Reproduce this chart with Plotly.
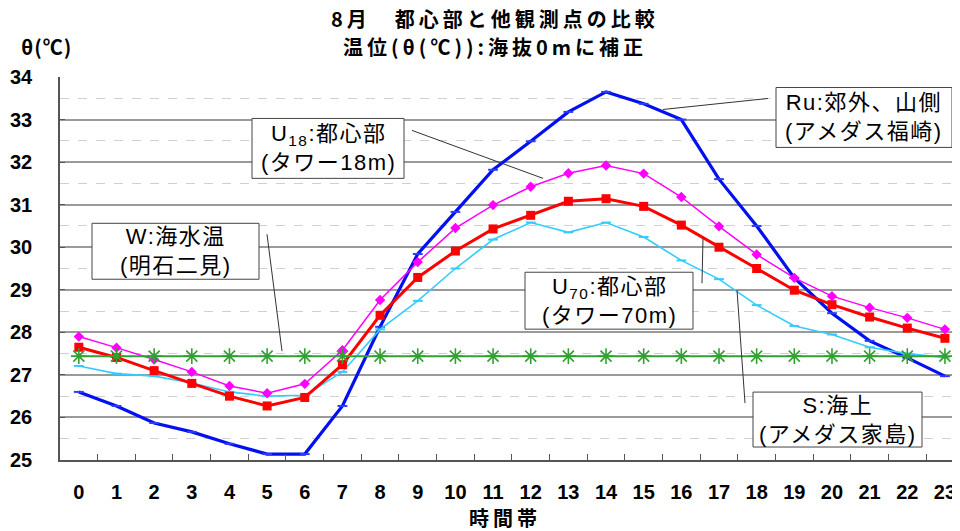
import plotly.graph_objects as go

hours = [str(h) for h in range(24)]
tick_labels = hours

ru_fukusaki = [26.60, 26.27, 25.87, 25.66, 25.38, 25.14, 25.14, 26.27, 28.13, 29.84, 30.83, 31.82,
               32.49, 33.18, 33.65, 33.37, 33.00, 31.60, 30.50, 29.28, 28.45, 27.80, 27.40, 26.97]
u18_tower = [27.90, 27.64, 27.36, 27.07, 26.74, 26.57, 26.79, 27.58, 28.76, 29.65, 30.45, 30.99,
             31.42, 31.74, 31.92, 31.73, 31.18, 30.49, 29.83, 29.28, 28.85, 28.58, 28.34, 28.07]
u70_tower = [27.65, 27.41, 27.10, 26.80, 26.50, 26.27, 26.47, 27.24, 28.40, 29.29, 29.91, 30.43,
             30.75, 31.08, 31.14, 30.96, 30.52, 30.00, 29.50, 28.99, 28.65, 28.36, 28.10, 27.86]
s_ieshima = [27.21, 27.03, 26.97, 26.81, 26.60, 26.50, 26.52, 27.07, 28.07, 28.74, 29.50, 30.18,
             30.58, 30.35, 30.58, 30.24, 29.69, 29.25, 28.64, 28.15, 27.95, 27.65, 27.50, 27.41]
w_sea = [27.44] * 24

title_line1 = "8月　都心部と他観測点の比較"
title_line2 = "温位(θ(℃)):海抜0mに補正"
y_title = "θ(℃)"
x_title = "時間帯"

labels = {
    "u18": "U<sub>18</sub>:都心部<br>(タワー18m)",
    "w": "W:海水温<br>(明石二見)",
    "ru": "Ru:郊外、山側<br>(アメダス福崎)",
    "u70": "U<sub>70</sub>:都心部<br>(タワー70m)",
    "s": "S:海上<br>(アメダス家島)",
}

# the page body has an 8px margin: lay out in screen pixels, convert to figure pixels
OFF = 8
W, H = 960 - OFF, 531 - OFF
L, R, T, B = 60 - OFF, 0, 76.5 - OFF, 71
PW, PH = W - L - R, H - T - B


def px(x):
    return (x - OFF - L) / PW


def py(y):
    return (H - B - (y - OFF)) / PH


def spaced(text, ls):
    return '<span style="letter-spacing:%gpx">%s</span>' % (ls, text)


fig = go.Figure()

fig.add_trace(go.Scatter(x=hours, y=ru_fukusaki, mode="lines+markers", name="Ru",
                         line=dict(color="#0010F0", width=3.2),
                         marker=dict(symbol="line-ew", size=7, line=dict(color="#2a3cff", width=2))))
fig.add_trace(go.Scatter(x=hours, y=s_ieshima, mode="lines+markers", name="S",
                         line=dict(color="#33CCFF", width=1.6),
                         marker=dict(symbol="line-ew", size=7, line=dict(color="#33CCFF", width=2))))
fig.add_trace(go.Scatter(x=hours, y=u70_tower, mode="lines+markers", name="U70",
                         line=dict(color="#FF0000", width=3),
                         marker=dict(symbol="square", size=9, color="#FF0000")))
fig.add_trace(go.Scatter(x=hours, y=u18_tower, mode="lines+markers", name="U18",
                         line=dict(color="#FF00FF", width=1.5),
                         marker=dict(symbol="diamond", size=8, color="#FF00FF")))
fig.add_trace(go.Scatter(x=hours, y=w_sea, mode="lines+markers", name="W",
                         line=dict(color="#33A033", width=2),
                         marker=dict(symbol="asterisk-open", size=13, line=dict(color="#0A7A0A", width=1.6))))

# boxes (screen pixel coords) and leader lines
boxes = [
    ("u18", 252, 118, 404, 178, (412, 130), (543, 178)),
    ("w", 92, 223, 259, 279, (267, 234), (282, 351)),
    ("ru", 776, 87, 952, 147, (768, 98), (663, 109)),
    ("u70", 525, 272, 693, 329, (702, 283), (703, 238)),
    ("s", 753, 392, 922, 447, (745, 403), (737, 290)),
]
shapes = []
annotations = []
for key, x0, y0, x1, y1, p0, p1 in boxes:
    shapes.append(dict(type="line", xref="paper", yref="paper", layer="above",
                       x0=px(p0[0]), y0=py(p0[1]), x1=px(p1[0]), y1=py(p1[1]),
                       line=dict(color="#333333", width=1)))
    shapes.append(dict(type="rect", xref="paper", yref="paper", layer="above",
                       x0=px(x0), y0=py(y0), x1=px(x1), y1=py(y1),
                       fillcolor="white", line=dict(color="#444444", width=1)))
    annotations.append(dict(xref="paper", yref="paper", x=px((x0 + x1) / 2), y=py((y0 + y1) / 2),
                            text=spaced(labels[key], 1.5), showarrow=False, align="center",
                            xanchor="center", yanchor="middle",
                            font=dict(family="Liberation Sans, Noto Sans CJK JP", size=22, color="black")))

tfont = dict(family="Noto Sans CJK JP", size=20, color="black", weight="bold")
annotations += [
    dict(xref="paper", yref="paper", x=px(495), y=py(18), text=spaced(title_line1, 4), showarrow=False,
         xanchor="center", yanchor="middle", font=tfont),
    dict(xref="paper", yref="paper", x=px(495), y=py(46), text=spaced(title_line2, 4), showarrow=False,
         xanchor="center", yanchor="middle", font=tfont),
    dict(xref="paper", yref="paper", x=px(46), y=py(46), text=spaced(y_title, 1), showarrow=False,
         xanchor="center", yanchor="middle", font=tfont),
    dict(xref="paper", yref="paper", x=px(505), y=py(518), text=spaced(x_title, 4), showarrow=False,
         xanchor="center", yanchor="middle", font=tfont),
]

tickfont = dict(family="Liberation Sans, Arial", size=20, color="black", weight="bold")

fig.update_layout(
    width=W, height=H,
    margin=dict(l=L, r=R, t=T, b=B, pad=0, autoexpand=False),
    paper_bgcolor="white", plot_bgcolor="white",
    showlegend=False,
    shapes=shapes, annotations=annotations,
    xaxis=dict(type="category", range=[-0.5, 23.4], tickvals=hours, ticktext=tick_labels,
               tickson="boundaries", ticks="inside", ticklen=6, tickcolor="#555555",
               showline=True, linecolor="#555555", linewidth=1.5, showgrid=False,
               tickfont=tickfont, ticklabelstandoff=13, zeroline=False, automargin=False),
    yaxis=dict(range=[25, 34], dtick=1, tick0=25, ticks="inside", ticklen=5, tickcolor="#555555",
               showline=True, linecolor="#555555", linewidth=1.5,
               showgrid=True, gridcolor="#9a9a9a", gridwidth=1.5,
               minor=dict(dtick=0.5, showgrid=True, gridcolor="#d0d0d0", griddash="dash", gridwidth=1),
               tickfont=tickfont, ticklabelstandoff=22, zeroline=False, automargin=False),
)

fig.write_html("out.html")
